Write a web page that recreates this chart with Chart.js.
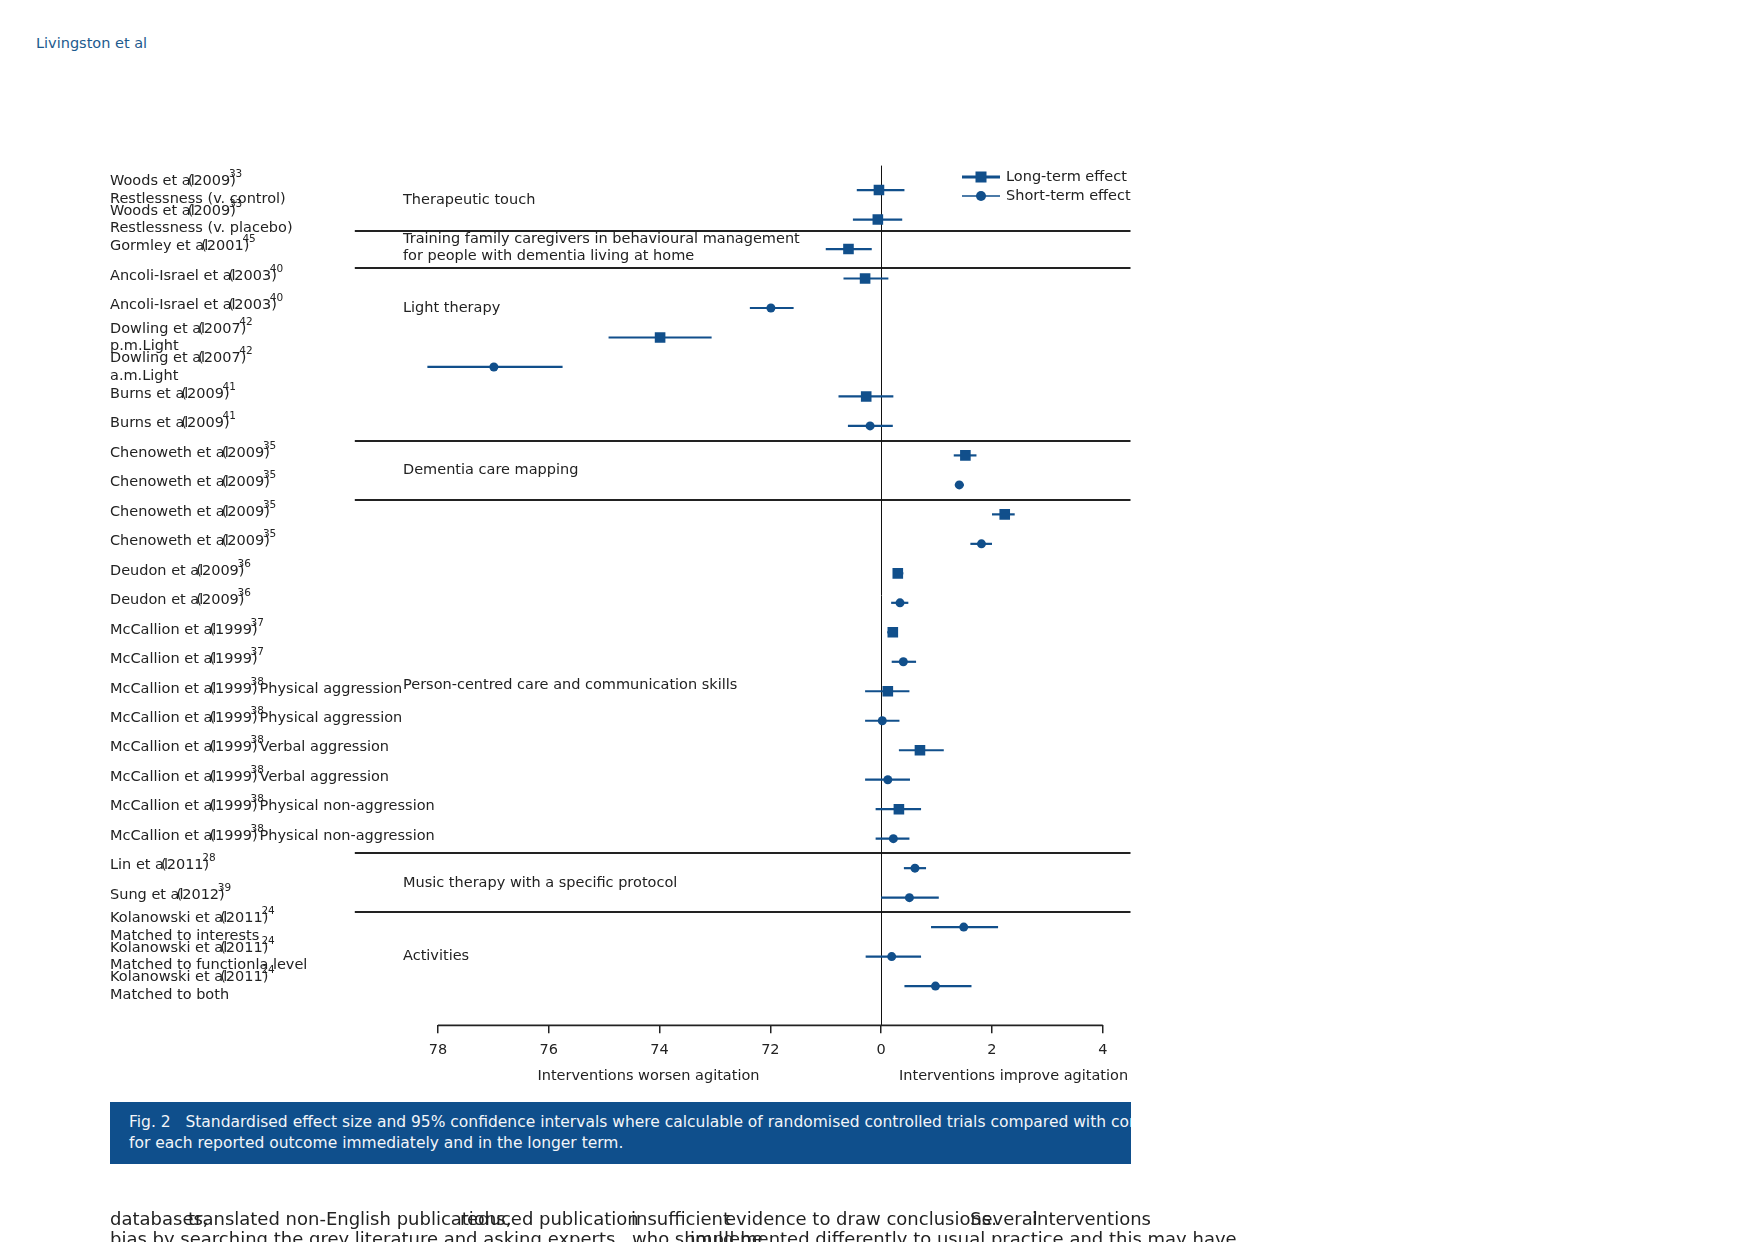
<!DOCTYPE html>
<html>
<head>
<meta charset="utf-8">
<script src="https://cdn.jsdelivr.net/npm/chart.js@4.4.1/dist/chart.umd.min.js"></script>
<style>
html, body { margin: 0; padding: 0; background: #fff; }
body { width: 1755px; height: 1242px; position: relative; overflow: hidden; font-family: 'DejaVu Sans', sans-serif; }
#chart { position: absolute; left: 0; top: 0; }
.hdr { position: absolute; left: 36px; top: 35px; font-size: 14.5px; color: #1d5a8e; }
.caption { position: absolute; left: 110px; top: 1102px; width: 1021px; height: 62px; background: #0f4f8c; color: #f2f5f9; font-size: 15.5px; overflow: hidden; white-space: nowrap; }
.caption div { position: absolute; left: 19px; }
.bodytext span { position: absolute; font-size: 18px; color: #222; white-space: nowrap; }
</style>
</head>
<body>
<div class="hdr">Livingston et al</div>
<canvas id="chart" width="1755" height="1242"></canvas>
<div class="caption">
  <div style="top:11px">Fig. 2&nbsp;&nbsp;&nbsp;Standardised effect size and 95% confidence intervals where calculable of randomised controlled trials compared with control</div>
  <div style="top:32px">for each reported outcome immediately and in the longer term.</div>
</div>
<div class="bodytext">
  <span style="left:110px;top:1208px">databases,</span>
  <span style="left:188px;top:1208px">translated non-English publications,</span>
  <span style="left:460px;top:1208px">reduced publication</span>
  <span style="left:631px;top:1208px">insufficient</span>
  <span style="left:725px;top:1208px">evidence to draw conclusions.</span>
  <span style="left:970px;top:1208px">Several</span>
  <span style="left:1032px;top:1208px">interventions</span>
  <span style="left:110px;top:1228px">bias by searching the grey literature and asking experts</span>
  <span style="left:632px;top:1228px">who should be</span>
  <span style="left:690px;top:1228px">implemented differently to usual practice and this may have</span>
</div>
<script>
// --- ข้อมูลแต่ละแถว (บนลงล่าง) ---
const rowAuthors = [
  'Woods et al', 'Woods et al', 'Gormley et al',
  'Ancoli-Israel et al', 'Ancoli-Israel et al',
  'Dowling et al', 'Dowling et al',
  'Burns et al', 'Burns et al',
  'Chenoweth et al', 'Chenoweth et al', 'Chenoweth et al', 'Chenoweth et al',
  'Deudon et al', 'Deudon et al',
  'McCallion et al', 'McCallion et al', 'McCallion et al', 'McCallion et al',
  'McCallion et al', 'McCallion et al', 'McCallion et al', 'McCallion et al',
  'Lin et al', 'Sung et al',
  'Kolanowski et al', 'Kolanowski et al', 'Kolanowski et al'
];
const rowYears = ['2009','2009','2001','2003','2003','2007','2007','2009','2009',
  '2009','2009','2009','2009','2009','2009','1999','1999','1999','1999','1999','1999','1999','1999',
  '2011','2012','2011','2011','2011'];
const rowRefs = ['33','33','45','40','40','42','42','41','41','35','35','35','35','36','36',
  '37','37','38','38','38','38','38','38','28','39','24','24','24'];
const rowNotes = [
  'Restlessness (v. control)', 'Restlessness (v. placebo)', '', '', '',
  'p.m.Light', 'a.m.Light', '', '', '', '', '', '', '', '', '', '',
  '', '', '', '', '', '', '', '',
  'Matched to interests', 'Matched to functionla level', 'Matched to both'
];
const rowInline = [
  '', '', '', '', '', '', '', '', '', '', '', '', '', '', '', '', '',
  'Physical aggression', 'Physical aggression', 'Verbal aggression', 'Verbal aggression',
  'Physical non-aggression', 'Physical non-aggression', '', '', '', '', ''
];
// L = long-term, S = short-term
const effectKind = ['L','L','L','L','S','L','S','L','S','L','S','L','S','L','S',
  'L','S','L','S','L','S','L','S','S','S','S','S','S'];
const estimate = [-0.04, -0.06, -0.59, -0.29, -1.99, -3.99, -6.99, -0.27, -0.20,
  1.52, 1.41, 2.23, 1.81, 0.30, 0.34, 0.21, 0.40, 0.12, 0.02, 0.70, 0.12, 0.32, 0.22,
  0.61, 0.51, 1.49, 0.19, 0.98];
const ciLow = [-0.44, -0.51, -1.00, -0.68, -2.37, -4.92, -8.19, -0.77, -0.60,
  1.31, 1.33, 2.00, 1.61, 0.22, 0.18, 0.11, 0.19, -0.29, -0.29, 0.32, -0.29, -0.10, -0.10,
  0.41, 0.00, 0.90, -0.28, 0.42];
const ciHigh = [0.42, 0.38, -0.17, 0.13, -1.58, -3.06, -5.75, 0.22, 0.21,
  1.72, 1.49, 2.41, 2.00, 0.40, 0.49, 0.30, 0.63, 0.51, 0.33, 1.13, 0.52, 0.72, 0.51,
  0.81, 1.04, 2.11, 0.72, 1.63];

// กลุ่มการรักษา
const groupNames = [
  ['Therapeutic touch'],
  ['Training family caregivers in behavioural management', 'for people with dementia living at home'],
  ['Light therapy'],
  ['Dementia care mapping'],
  ['Person-centred care and communication skills'],
  ['Music therapy with a specific protocol'],
  ['Activities']
];
const groupRows = [0.35, 1.95, 4, 9.5, 16.8, 23.5, 26];
const groupBreaks = [1.4, 2.63, 8.5, 10.5, 22.5, 24.5];

const tickValues = [-8, -6, -4, -2, 0, 2, 4];
const tickLabels = ['78', '76', '74', '72', '0', '2', '4'];
const sideNotes = ['Interventions worsen agitation', 'Interventions improve agitation'];
const sideNoteAt = [-4.2, 2.39];

const BLUE = '#114f8b';
const INK = '#222';
const FONT = "'DejaVu Sans', sans-serif";

const longPts = [], shortPts = [];
estimate.forEach((v, i) => {
  (effectKind[i] === 'L' ? longPts : shortPts).push({ x: v, y: i });
});

const forestPlugin = {
  id: 'forest',
  beforeDatasetsDraw(chart) {
    const { ctx, chartArea: a, scales: { x, y } } = chart;
    ctx.save();
    // เส้นแบ่งกลุ่ม
    ctx.strokeStyle = INK;
    ctx.lineWidth = 2;
    groupBreaks.forEach(r => {
      const py = Math.round(y.getPixelForValue(r));
      ctx.beginPath(); ctx.moveTo(a.left, py); ctx.lineTo(a.right, py); ctx.stroke();
    });
    // เส้นศูนย์
    const x0 = Math.round(x.getPixelForValue(0)) + 0.5;
    ctx.lineWidth = 1;
    ctx.strokeStyle = '#111';
    ctx.beginPath(); ctx.moveTo(x0, a.top); ctx.lineTo(x0, a.bottom); ctx.stroke();
    // แกน x (เฉพาะช่วง -8 ถึง 4)
    ctx.lineWidth = 1.8;
    ctx.strokeStyle = INK;
    ctx.beginPath();
    ctx.moveTo(x.getPixelForValue(tickValues[0]), a.bottom);
    ctx.lineTo(x.getPixelForValue(tickValues[tickValues.length - 1]), a.bottom);
    ctx.stroke();
    // ช่วงความเชื่อมั่น
    ctx.strokeStyle = BLUE;
    ctx.lineWidth = 2.2;
    estimate.forEach((v, i) => {
      const py = y.getPixelForValue(i);
      ctx.beginPath();
      ctx.moveTo(x.getPixelForValue(ciLow[i]), py);
      ctx.lineTo(x.getPixelForValue(ciHigh[i]), py);
      ctx.stroke();
    });
    ctx.restore();
  },
  afterDraw(chart) {
    const { ctx, chartArea: a, scales: { x, y } } = chart;
    ctx.save();
    ctx.fillStyle = INK;
    ctx.textBaseline = 'middle';
    ctx.textAlign = 'left';
    // ชื่องานวิจัย (ปีพิมพ์ทับตัวอักษรท้ายเหมือนต้นฉบับ)
    const lx = 110;
    rowAuthors.forEach((name, i) => {
      const py = y.getPixelForValue(i);
      const two = rowNotes[i] !== '';
      const y1 = two ? py - 8.5 : py - 2.5;
      ctx.font = '14.5px ' + FONT;
      ctx.fillText(name, lx, y1);
      const yx = lx + ctx.measureText(name).width - 7;
      const yr = '(' + rowYears[i] + ')';
      ctx.fillText(yr, yx, y1);
      const end = yx + ctx.measureText(yr).width;
      ctx.font = '10.5px ' + FONT;
      ctx.fillText(rowRefs[i], end - 7, y1 - 7);
      ctx.font = '14.5px ' + FONT;
      if (rowInline[i]) ctx.fillText(rowInline[i], end + 2, y1);
      if (two) ctx.fillText(rowNotes[i], lx, py + 9);
    });
    // ชื่อกลุ่ม
    ctx.font = '14.5px ' + FONT;
    groupNames.forEach((lines, g) => {
      const py = y.getPixelForValue(groupRows[g]);
      const h = 16.5;
      lines.forEach((t, k) => {
        ctx.fillText(t, 403, py + (k - (lines.length - 1) / 2) * h);
      });
    });
    // คำอธิบายใต้แกน
    ctx.textAlign = 'center';
    sideNotes.forEach((t, k) => {
      ctx.fillText(t, x.getPixelForValue(sideNoteAt[k]), a.bottom + 51);
    });
    // คำอธิบายสัญลักษณ์
    ctx.textAlign = 'left';
    chart.data.datasets.forEach((ds, k) => {
      const py = 177 + k * 19;
      ctx.strokeStyle = BLUE;
      ctx.fillStyle = BLUE;
      ctx.lineWidth = k === 0 ? 3 : 1.5;
      ctx.beginPath(); ctx.moveTo(962, py); ctx.lineTo(1000, py); ctx.stroke();
      if (ds.pointStyle === 'rect') {
        ctx.fillRect(981 - 5.5, py - 5.5, 11, 11);
      } else {
        ctx.beginPath(); ctx.arc(981, py, 5, 0, Math.PI * 2); ctx.fill();
      }
      ctx.fillStyle = INK;
      ctx.fillText(ds.label, 1006, py);
    });
    ctx.restore();
  }
};

new Chart(document.getElementById('chart').getContext('2d'), {
  type: 'scatter',
  data: {
    datasets: [
      { label: 'Long-term effect', data: longPts, pointStyle: 'rect', pointRadius: 7.5,
        backgroundColor: BLUE, borderColor: BLUE, borderWidth: 0 },
      { label: 'Short-term effect', data: shortPts, pointStyle: 'circle', pointRadius: 4.5,
        backgroundColor: BLUE, borderColor: BLUE, borderWidth: 0 }
    ]
  },
  options: {
    responsive: false,
    animation: false,
    devicePixelRatio: 1,
    layout: { padding: { left: 354.8, right: 624.5, top: 165.6, bottom: 176.7 } },
    plugins: { legend: { display: false }, tooltip: { enabled: false } },
    scales: {
      x: {
        type: 'linear', min: -9.5, max: 4.5,
        afterFit: s => { s.height = 40; },
        afterBuildTicks: s => { s.ticks = tickValues.map(v => ({ value: v })); },
        border: { display: false },
        grid: { drawOnChartArea: false, drawTicks: true, tickLength: 8, color: INK, lineWidth: 1.5 },
        ticks: {
          autoSkip: false, maxRotation: 0, padding: 8, color: INK,
          font: { family: FONT, size: 14.5 },
          callback: v => tickLabels[tickValues.indexOf(v)]
        }
      },
      y: { type: 'linear', display: false, reverse: true, min: -0.83, max: 28.33 }
    }
  },
  plugins: [forestPlugin]
});
</script>
</body>
</html>
